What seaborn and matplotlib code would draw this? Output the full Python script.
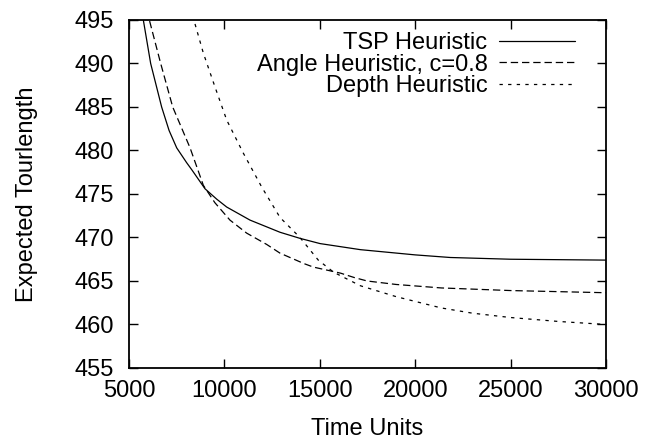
import pandas as pd
import matplotlib
matplotlib.use("Agg")
import matplotlib.pyplot as plt
import seaborn as sns

# values (x = time units, y = expected tour length)
tsp_x = [5000, 5750, 6135, 6710, 7100, 7500, 8020, 8285, 8983, 9600, 10120,
         11340, 12915, 13962, 15010, 17130, 20000, 21840, 25000, 30000]
tsp_y = [506.0, 495.0, 490.0, 485.0, 482.3, 480.3, 478.6, 477.8, 475.6, 474.4,
         473.5, 472.0, 470.6, 469.9, 469.3, 468.6, 468.0, 467.7, 467.5, 467.4]

angle_x = [5000, 6065, 6660, 7290, 8200, 8895, 9500, 10290, 11168, 12217, 12914,
           14170, 14660, 16090, 16800, 17480, 19000, 21370, 25000, 30000]
angle_y = [507.0, 495.0, 490.0, 485.0, 480.3, 476.0, 474.0, 472.0, 470.5, 469.2,
           468.2, 467.0, 466.6, 465.9, 465.4, 465.0, 464.6, 464.2, 463.9, 463.65]

depth_x = [7800, 8400, 8895, 9507, 10120, 10990, 11955, 12915, 13960, 14920,
           15730, 17130, 19000, 21370, 23000, 25000, 27500, 30000]
depth_y = [500.0, 495.0, 491.2, 487.3, 483.5, 479.7, 475.8, 472.3, 470.0, 467.4,
           466.0, 464.45, 463.2, 461.9, 461.3, 460.8, 460.35, 460.0]

labels = ["TSP Heuristic", "Angle Heuristic, c=0.8", "Depth Heuristic"]
x_ticks = [5000, 10000, 15000, 20000, 25000, 30000]
y_ticks = [455, 460, 465, 470, 475, 480, 485, 490, 495]

df = pd.concat([
    pd.DataFrame({"time": tsp_x, "len": tsp_y, "series": labels[0]}),
    pd.DataFrame({"time": angle_x, "len": angle_y, "series": labels[1]}),
    pd.DataFrame({"time": depth_x, "len": depth_y, "series": labels[2]}),
])

sns.set_style("ticks")
plt.rcParams["font.family"] = ["Liberation Sans", "DejaVu Sans"]
plt.rcParams["lines.scale_dashes"] = False
plt.rcParams["text.color"] = "black"
plt.rcParams["axes.labelcolor"] = "black"
plt.rcParams["xtick.color"] = "black"
plt.rcParams["ytick.color"] = "black"
plt.rcParams["axes.edgecolor"] = "black"

fs = 17

fig = plt.figure(figsize=(6.47, 4.44), dpi=100)
ax = fig.add_axes([0.1994, 0.1712, 0.7372, 0.7838])

sns.lineplot(data=df, x="time", y="len", style="series", style_order=labels,
             dashes={labels[0]: "", labels[1]: (5.3, 2.8), labels[2]: (2.4, 3.8)},
             color="black", linewidth=0.9, estimator=None, sort=True,
             legend=False, ax=ax)

ax.set_xlim(5000, 30000)
ax.set_ylim(455, 495)
ax.set_xticks(x_ticks)
ax.set_yticks(y_ticks)
ax.tick_params(direction="in", top=True, right=True, length=6.5, width=1.0,
               labelsize=fs)
ax.tick_params(axis="y", pad=11)
ax.tick_params(axis="x", pad=8.5)
for s in ax.spines.values():
    s.set_linewidth(1.3)

ax.set_xlabel("Time Units", fontsize=fs)
ax.set_ylabel("Expected Tourlength", fontsize=fs)
ax.xaxis.set_label_coords(0.5, -0.145)
ax.yaxis.set_label_coords(-0.19, 0.5)

ax.legend(handles=ax.lines, labels=labels, loc="upper right",
          bbox_to_anchor=(0.935, 0.965), frameon=False, markerfirst=False,
          fontsize=fs, handlelength=3.2, handletextpad=0.5,
          labelspacing=-0.02, borderpad=0, borderaxespad=0)

fig.savefig("out.png", dpi=100)
